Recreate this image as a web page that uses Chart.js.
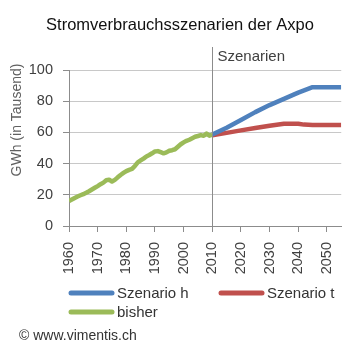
<!DOCTYPE html>
<html>
<head>
<meta charset="utf-8">
<script src="https://cdn.jsdelivr.net/npm/chart.js@4"></script>
<style>
html,body{margin:0;padding:0;background:#fff;}
#wrap{position:relative;width:355px;height:355px;}
</style>
</head>
<body>
<div id="wrap"><canvas id="c" width="355" height="355"></canvas></div>
<script>
const chartTitle = 'Stromverbrauchsszenarien der Axpo';
const yTitle = 'GWh (in Tausend)';
const scenarioLabel = 'Szenarien';
const scenarioStartYear = 2010;
const sourceText = '\u00A9 www.vimentis.ch';

const xTickLabels = ['1960','1970','1980','1990','2000','2010','2020','2030','2040','2050'];
const yTickLabels = ['0','20','40','60','80','100'];

const histYears = [1960,1961,1962,1963,1964,1965,1966,1967,1968,1969,
  1970,1971,1972,1973,1974,1975,1976,1977,1978,1979,
  1980,1981,1982,1983,1984,1985,1986,1987,1988,1989,
  1990,1991,1992,1993,1994,1995,1996,1997,1998,1999,
  2000,2001,2002,2003,2004,2005,2006,2007,2008,2009,2010];
const histValues = [16.0,17.0,18.0,18.9,19.7,20.4,21.3,22.3,23.4,24.5,
  25.6,26.8,27.8,29.3,29.7,28.5,29.6,31.2,32.7,34.0,
  35.2,36.0,36.6,38.5,40.8,42.0,43.2,44.6,45.5,46.6,
  47.8,48.0,47.3,46.6,47.2,48.2,48.6,49.2,50.8,52.4,
  53.6,54.6,55.3,56.3,57.2,57.7,58.3,57.8,59.2,57.9,58.6];

const scenHYears = [2010,2015,2020,2025,2030,2035,2040,2045,2050,2055];
const scenHValues = [58.6,63.0,68.0,73.0,77.5,81.5,85.5,89.0,89.0,89.0];

const scenTYears = [2010,2015,2020,2025,2030,2035,2040,2042,2045,2050,2055];
const scenTValues = [58.2,59.7,61.3,62.8,64.3,65.6,65.6,65.0,64.8,64.7,64.7];

const seriesLabels = ['Szenario h','Szenario t','bisher'];
const seriesColors = ['#4F81BD','#C0504D','#9BBB59'];

const FONT = "'Liberation Sans', Arial, sans-serif";

function pts(xs, ys){ return xs.map((x,i)=>({x:x,y:ys[i]})); }

const extras = {
  id:'extras',
  afterDatasetsDraw(chart){
    const ctx = chart.ctx;
    const xs = chart.scales.x;
    const ca = chart.chartArea;
    const x0 = Math.round(xs.getPixelForValue(scenarioStartYear)) + 0.5;
    ctx.save();
    ctx.strokeStyle = '#8c8c8c';
    ctx.lineWidth = 1;
    ctx.beginPath();
    ctx.moveTo(x0, 47);
    ctx.lineTo(x0, ca.bottom + 6);
    ctx.stroke();
    ctx.fillStyle = '#404040';
    ctx.font = '15px ' + FONT;
    ctx.textBaseline = 'middle';
    ctx.textAlign = 'left';
    ctx.fillText(scenarioLabel, x0 + 5, 57);
    ctx.restore();
  },
  afterDraw(chart){
    const ctx = chart.ctx;
    ctx.save();
    ctx.fillStyle = '#606060';
    ctx.font = '14px ' + FONT;
    ctx.translate(17, 120);
    ctx.rotate(-Math.PI/2);
    ctx.textAlign = 'center';
    ctx.textBaseline = 'middle';
    ctx.fillText(yTitle, 0, 0);
    ctx.restore();
    const pos = [[69,293],[219,293],[69,312]];
    const order = [1,2,0];
    ctx.save();
    ctx.font = '15px ' + FONT;
    ctx.textBaseline = 'middle';
    ctx.lineCap = 'round';
    order.forEach((di, k) => {
      const ds = chart.data.datasets[di];
      const [lx, ly] = pos[k];
      ctx.strokeStyle = ds.borderColor;
      ctx.lineWidth = 5;
      ctx.beginPath();
      ctx.moveTo(lx + 2, ly);
      ctx.lineTo(lx + 43, ly);
      ctx.stroke();
      ctx.fillStyle = '#333';
      ctx.fillText(ds.label, lx + 48, ly + 1);
    });
    ctx.fillStyle = '#333';
    ctx.font = '14px ' + FONT;
    ctx.fillText(sourceText, 19, 336);
    ctx.restore();
  }
};

new Chart(document.getElementById('c'), {
  type: 'line',
  data: {
    datasets: [
      {label: seriesLabels[2], data: pts(histYears, histValues), borderColor: seriesColors[2], backgroundColor: seriesColors[2], borderWidth: 4.5, pointRadius: 0, tension: 0, borderJoinStyle:'round'},
      {label: seriesLabels[0], data: pts(scenHYears, scenHValues), borderColor: seriesColors[0], backgroundColor: seriesColors[0], borderWidth: 4.5, pointRadius: 0, tension: 0, borderJoinStyle:'round'},
      {label: seriesLabels[1], data: pts(scenTYears, scenTValues), borderColor: seriesColors[1], backgroundColor: seriesColors[1], borderWidth: 4.5, pointRadius: 0, tension: 0, borderJoinStyle:'round'}
    ]
  },
  options: {
    responsive: false,
    animation: false,
    devicePixelRatio: 1,
    layout: {padding: {left: 18, right: 13, top: 0, bottom: 0}},
    plugins: {
      legend: {display: false},
      tooltip: {enabled: false},
      title: {
        display: true,
        text: chartTitle,
        color: '#111',
        font: {family: FONT, size: 16.5, weight: 'normal'},
        padding: {top: 16, bottom: 34.2}
      }
    },
    scales: {
      x: {
        type: 'linear',
        min: 1960,
        max: 2055,
        afterBuildTicks(scale){ scale.ticks = xTickLabels.map(t => ({value: Number(t)})); },
        afterFit(scale){ scale.height = 129; },
        ticks: {
          autoSkip: false,
          maxRotation: 90,
          minRotation: 90,
          padding: 10,
          color: '#404040',
          font: {family: FONT, size: 14.5},
          callback: (v) => xTickLabels.find(t => Number(t) === v) || ''
        },
        grid: {drawOnChartArea: false, drawTicks: true, tickLength: 6, tickColor: '#8c8c8c', color: '#8c8c8c'},
        border: {color: '#8c8c8c'}
      },
      y: {
        min: 0,
        max: 100,
        afterBuildTicks(scale){ scale.ticks = yTickLabels.map(t => ({value: Number(t)})); },
        afterFit(scale){ scale.width = 51; },
        ticks: {
          padding: 10,
          color: '#404040',
          font: {family: FONT, size: 14.5},
          callback: (v) => yTickLabels.find(t => Number(t) === v) || ''
        },
        grid: {color: '#c8c8c8', tickLength: 6, tickColor: '#8c8c8c'},
        border: {color: '#8c8c8c'}
      }
    }
  },
  plugins: [extras]
});
</script>
</body>
</html>
